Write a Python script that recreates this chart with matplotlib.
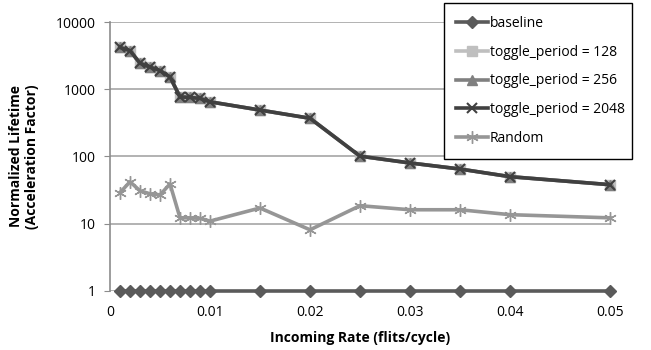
import matplotlib.pyplot as plt
import numpy as np

plt.rcParams['font.family'] = ['Open Sans', 'DejaVu Sans']

# incoming rate (flits/cycle)
rate = [0.001, 0.002, 0.003, 0.004, 0.005, 0.006, 0.007, 0.008, 0.009, 0.010,
        0.015, 0.020, 0.025, 0.030, 0.035, 0.040, 0.050]

baseline = [1] * len(rate)
toggle_128 = [4190, 3750, 2440, 2130, 1900, 1520, 770, 756, 730, 650,
              490, 370, 101, 80, 65, 50, 38]
toggle_256 = [4190, 3750, 2440, 2130, 1900, 1520, 770, 756, 730, 650,
              490, 370, 101, 80, 65, 50, 38]
toggle_2048 = [4190, 3750, 2440, 2130, 1900, 1520, 770, 756, 730, 650,
               490, 370, 101, 80, 65, 50, 38]
random_ = [29, 42, 30.8, 27.8, 26.8, 39, 12.2, 12.2, 12, 10.9,
           17.1, 8.1, 18.5, 16.1, 16.1, 13.6, 12.2]

xticks = [0, 0.01, 0.02, 0.03, 0.04, 0.05]
xtick_labels = ['0', '0.01', '0.02', '0.03', '0.04', '0.05']
yticks = [1, 10, 100, 1000, 10000]
ytick_labels = ['1', '10', '100', '1000', '10000']

fig = plt.figure(figsize=(6.51, 3.5), dpi=100)
ax = fig.add_axes([0.169, 0.169, 0.768, 0.768])

lw = 2.6
ax.plot(rate, baseline, color='#5a5a5a', lw=lw, marker='D', ms=6, label='baseline', zorder=5, clip_on=False)
ax.plot(rate, toggle_128, color='#bfbfbf', lw=lw, marker='s', ms=7, label='toggle_period = 128', zorder=3, clip_on=False)
ax.plot(rate, toggle_256, color='#808080', lw=lw, marker='^', ms=7, label='toggle_period = 256', zorder=4, clip_on=False)
ax.plot(rate, toggle_2048, color='#404040', lw=lw, marker='x', ms=7, mew=1.5, label='toggle_period = 2048', zorder=5, clip_on=False)
ax.plot(rate, random_, color='#969696', lw=lw, marker=(6, 2, 0), ms=9, mew=1.0, label='Random', zorder=4, clip_on=False)

ax.set_yscale('log')
ax.set_xlim(0, 0.05)
ax.set_ylim(1, 10000)
ax.set_yticks(yticks)
ax.set_yticklabels(ytick_labels)
ax.minorticks_off()
ax.set_xticks(xticks)
ax.set_xticklabels(xtick_labels)

ax.yaxis.grid(True, color='#a6a6a6', lw=1.2)
ax.set_axisbelow(True)
for s in ['top', 'right', 'bottom']:
    ax.spines[s].set_visible(False)
ax.spines['left'].set_color('#8c8c8c')
ax.spines['left'].set_linewidth(1.2)
ax.tick_params(axis='y', length=4, color='#8c8c8c', labelsize=10, pad=6)
ax.tick_params(axis='x', length=0, labelsize=10, pad=10)

ax.set_xlabel('Incoming Rate (flits/cycle)', fontsize=10, fontweight='bold', labelpad=8)
ax.set_ylabel('Normalized Lifetime\n(Acceleration Factor)', fontsize=10, fontweight='bold', labelpad=12)

leg = ax.legend(loc='upper left', bbox_to_anchor=(0.682, 0.56, 0.289, 0.431),
                bbox_transform=fig.transFigure, mode='expand', fontsize=10,
                frameon=True, fancybox=False, edgecolor='black', borderaxespad=0,
                handlelength=2.3, handletextpad=0.1, labelspacing=1.0, borderpad=0.9)
leg.get_frame().set_linewidth(1.0)
leg.get_frame().set_alpha(1.0)

fig.savefig('out.png', dpi=100)
